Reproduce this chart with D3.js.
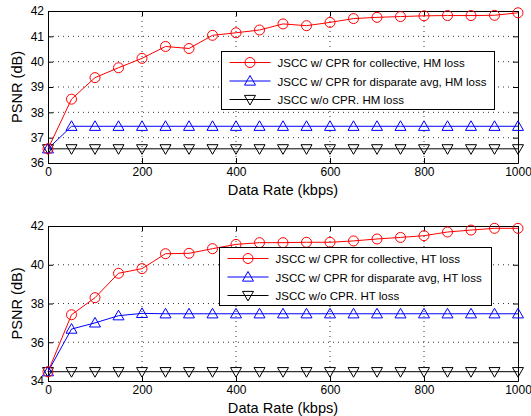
<!DOCTYPE html>
<html lang="en">
<meta charset="utf-8">
<title>PSNR vs data rate</title>
<style>
  body { margin: 0; background: white; }
  svg text { font-family: "Liberation Sans", Arial, Helvetica, sans-serif; }
</style>
<body>
<svg id="canvas"></svg>
<script src="https://cdn.jsdelivr.net/npm/d3@7"></script>
<script>

    ////////////////////// Data ///////////////////////
    var rates        = [0, 50, 100, 150, 200, 250, 300, 350, 400, 450, 500,
                        550, 600, 650, 700, 750, 800, 850, 900, 950, 1000];

    // top panel (HM loss)
    var hm_collective = [36.56, 38.52, 39.37, 39.76, 40.13, 40.6, 40.52, 41.04, 41.14, 41.25, 41.49,
                         41.42, 41.55, 41.7, 41.75, 41.78, 41.81, 41.82, 41.82, 41.83, 41.93];
    var hm_disparate  = [36.56, 37.45, 37.45, 37.45, 37.45, 37.45, 37.45, 37.45, 37.45, 37.45, 37.45,
                         37.45, 37.45, 37.45, 37.45, 37.45, 37.45, 37.45, 37.45, 37.45, 37.45];
    var hm_none       = [36.56, 36.56, 36.56, 36.56, 36.56, 36.56, 36.56, 36.56, 36.56, 36.56, 36.56,
                         36.56, 36.56, 36.56, 36.56, 36.56, 36.56, 36.56, 36.56, 36.56, 36.56];

    // bottom panel (HT loss)
    var ht_collective = [34.48, 37.42, 38.3, 39.56, 39.8, 40.57, 40.59, 40.83, 41.05, 41.14, 41.14,
                         41.16, 41.16, 41.23, 41.33, 41.41, 41.5, 41.69, 41.79, 41.88, 41.88];
    var ht_disparate  = [34.48, 36.68, 37.0, 37.37, 37.49, 37.47, 37.47, 37.47, 37.47, 37.47, 37.47,
                         37.47, 37.47, 37.47, 37.47, 37.47, 37.47, 37.47, 37.47, 37.47, 37.47];
    var ht_none       = [34.48, 34.48, 34.48, 34.48, 34.48, 34.48, 34.48, 34.48, 34.48, 34.48, 34.48,
                         34.48, 34.48, 34.48, 34.48, 34.48, 34.48, 34.48, 34.48, 34.48, 34.48];

    var x_ticks      = [0, 200, 400, 600, 800, 1000];
    var top_y_ticks  = [36, 37, 38, 39, 40, 41, 42];
    var bot_y_ticks  = [34, 36, 38, 40, 42];

    var hm_labels    = ["JSCC w/ CPR for collective, HM loss",
                        "JSCC w/ CPR for disparate avg, HM loss",
                        "JSCC w/o CPR. HM loss"];
    var ht_labels    = ["JSCC w/ CPR for collective, HT loss",
                        "JSCC w/ CPR for disparate avg, HT loss",
                        "JSCC w/o CPR. HT loss"];
    var x_label      = "Data Rate (kbps)";
    var y_label      = "PSNR (dB)";
    ///////////////////////////////////////////////////

    ///////// Position and Dimension Variables ////////
    var dimensions   = [531, 416];
    var plot_left    = 48;
    var plot_right   = 518;
    var tick_len     = 5;
    var marker_r     = 5;
    var legend_text_w = 209;   // width of the longest legend entry
    ///////////////////////////////////////////////////

    ///////////////// Style Variables /////////////////
    var colors       = ['#ff0000', '#0000ff', '#000000'];
    var shapes       = ['circle', 'up', 'down'];
    var tick_size    = 12;
    var label_size   = 14.6;
    ///////////////////////////////////////////////////

    var canvas = d3.select("#canvas")
        .attr('width',  dimensions[0])
        .attr('height', dimensions[1]);

    // pick legend font size so the longest entry fits the box like the original
    var probe = canvas.append("text").attr('font-size', 10).text(hm_labels[1]);
    var legend_size = 10 * legend_text_w / probe.node().getComputedTextLength();
    probe.remove();

    var x = d3.scaleLinear().domain([0, 1000]).range([plot_left, plot_right]);

    function drawMarker(g, shape, cx, cy, color) {
        if (shape == 'circle') {
            g.append("circle").attr('cx', cx).attr('cy', cy).attr('r', marker_r)
             .attr('fill', 'none').attr('stroke', color).attr('stroke-width', 1);
        } else {
            var h = 5.5, w = 5.5;
            var pts = shape == 'up'
                ? [[cx, cy - h], [cx + w, cy + h * 0.75], [cx - w, cy + h * 0.75]]
                : [[cx, cy + h], [cx + w, cy - h * 0.75], [cx - w, cy - h * 0.75]];
            g.append("polygon").attr('points', pts.map(function (p) { return p.join(','); }).join(' '))
             .attr('fill', 'none').attr('stroke', color).attr('stroke-width', 1);
        }
    }

    function drawPanel(p) {
        var y = d3.scaleLinear().domain(p.y_domain).range([p.bottom, p.top]);
        var g = canvas.append("g");

        // grid
        g.selectAll(".vgrid").data(x_ticks.slice(1, -1)).enter().append("line")
            .attr('x1', function (d) { return x(d); }).attr('x2', function (d) { return x(d); })
            .attr('y1', p.top).attr('y2', p.bottom)
            .attr('stroke', '#000').attr('stroke-width', 0.8).attr('stroke-dasharray', '1,4');
        g.selectAll(".hgrid").data(p.y_ticks.slice(1, -1)).enter().append("line")
            .attr('x1', plot_left).attr('x2', plot_right)
            .attr('y1', function (d) { return y(d); }).attr('y2', function (d) { return y(d); })
            .attr('stroke', '#000').attr('stroke-width', 0.8).attr('stroke-dasharray', '1,4');

        // axes with inward ticks on all four sides
        var axes = [
            [d3.axisBottom(x).tickValues(x_ticks).tickSizeInner(-tick_len), 'translate(0,' + p.bottom + ')', true],
            [d3.axisTop(x).tickValues(x_ticks).tickSizeInner(-tick_len), 'translate(0,' + p.top + ')', false],
            [d3.axisLeft(y).tickValues(p.y_ticks).tickSizeInner(-tick_len), 'translate(' + plot_left + ',0)', true],
            [d3.axisRight(y).tickValues(p.y_ticks).tickSizeInner(-tick_len), 'translate(' + plot_right + ',0)', false]
        ];
        axes.forEach(function (a) {
            var ax = g.append("g").attr('transform', a[1])
                .call(a[0].tickSizeOuter(0).tickPadding(4).tickFormat(a[2] ? d3.format('d') : ''));
            ax.select(".domain").attr('stroke', '#000').attr('stroke-width', 1);
            ax.selectAll(".tick line").attr('stroke', '#000');
            ax.selectAll("text").attr('font-size', tick_size).attr('fill', '#000')
                .attr('font-family', '"Liberation Sans", Arial, sans-serif');
        });

        // series
        p.series.forEach(function (s, i) {
            var line = d3.line().x(function (d, j) { return x(rates[j]); }).y(function (d) { return y(d); });
            g.append("path").datum(s).attr('d', line)
                .attr('fill', 'none').attr('stroke', colors[i]).attr('stroke-width', 1);
        });
        p.series.slice().reverse().forEach(function (s, k) {
            var i = p.series.length - 1 - k;
            s.forEach(function (d, j) { drawMarker(g, shapes[i], x(rates[j]), y(d), colors[i]); });
        });

        // labels
        g.append("text").attr('x', (plot_left + plot_right) / 2) .attr('y', p.xlabel_y)
            .attr('text-anchor', 'middle').attr('font-size', label_size).text(x_label);
        g.append("text").attr('transform', 'translate(22,' + ((p.top + p.bottom) / 2) + ') rotate(-90)')
            .attr('text-anchor', 'middle').attr('font-size', label_size).text(y_label);

        // legend
        var lg = g.append("g").attr('transform', 'translate(' + p.legend[0] + ',' + p.legend[1] + ')');
        lg.append("rect").attr('width', p.legend[2]).attr('height', p.legend[3])
            .attr('fill', '#fff').attr('stroke', '#000').attr('stroke-width', 1);
        p.labels.forEach(function (t, i) {
            var ly = 11 + i * 18.5;
            lg.append("line").attr('x1', 8).attr('x2', 49).attr('y1', ly).attr('y2', ly)
                .attr('stroke', colors[i]).attr('stroke-width', 1);
            drawMarker(lg, shapes[i], 28.5, ly, colors[i]);
            lg.append("text").attr('x', 56).attr('y', ly + 4.5).attr('font-size', legend_size).text(t);
        });
    }

    drawPanel({ top: 11, bottom: 163, y_domain: [36, 42], y_ticks: top_y_ticks,
                series: [hm_collective, hm_disparate, hm_none], labels: hm_labels,
                legend: [221.5, 51.5, 273, 58], xlabel_y: 195 });
    drawPanel({ top: 226, bottom: 381, y_domain: [34, 42], y_ticks: bot_y_ticks,
                series: [ht_collective, ht_disparate, ht_none], labels: ht_labels,
                legend: [219.5, 247.5, 272, 58], xlabel_y: 413 });

</script>
</body>
</html>
